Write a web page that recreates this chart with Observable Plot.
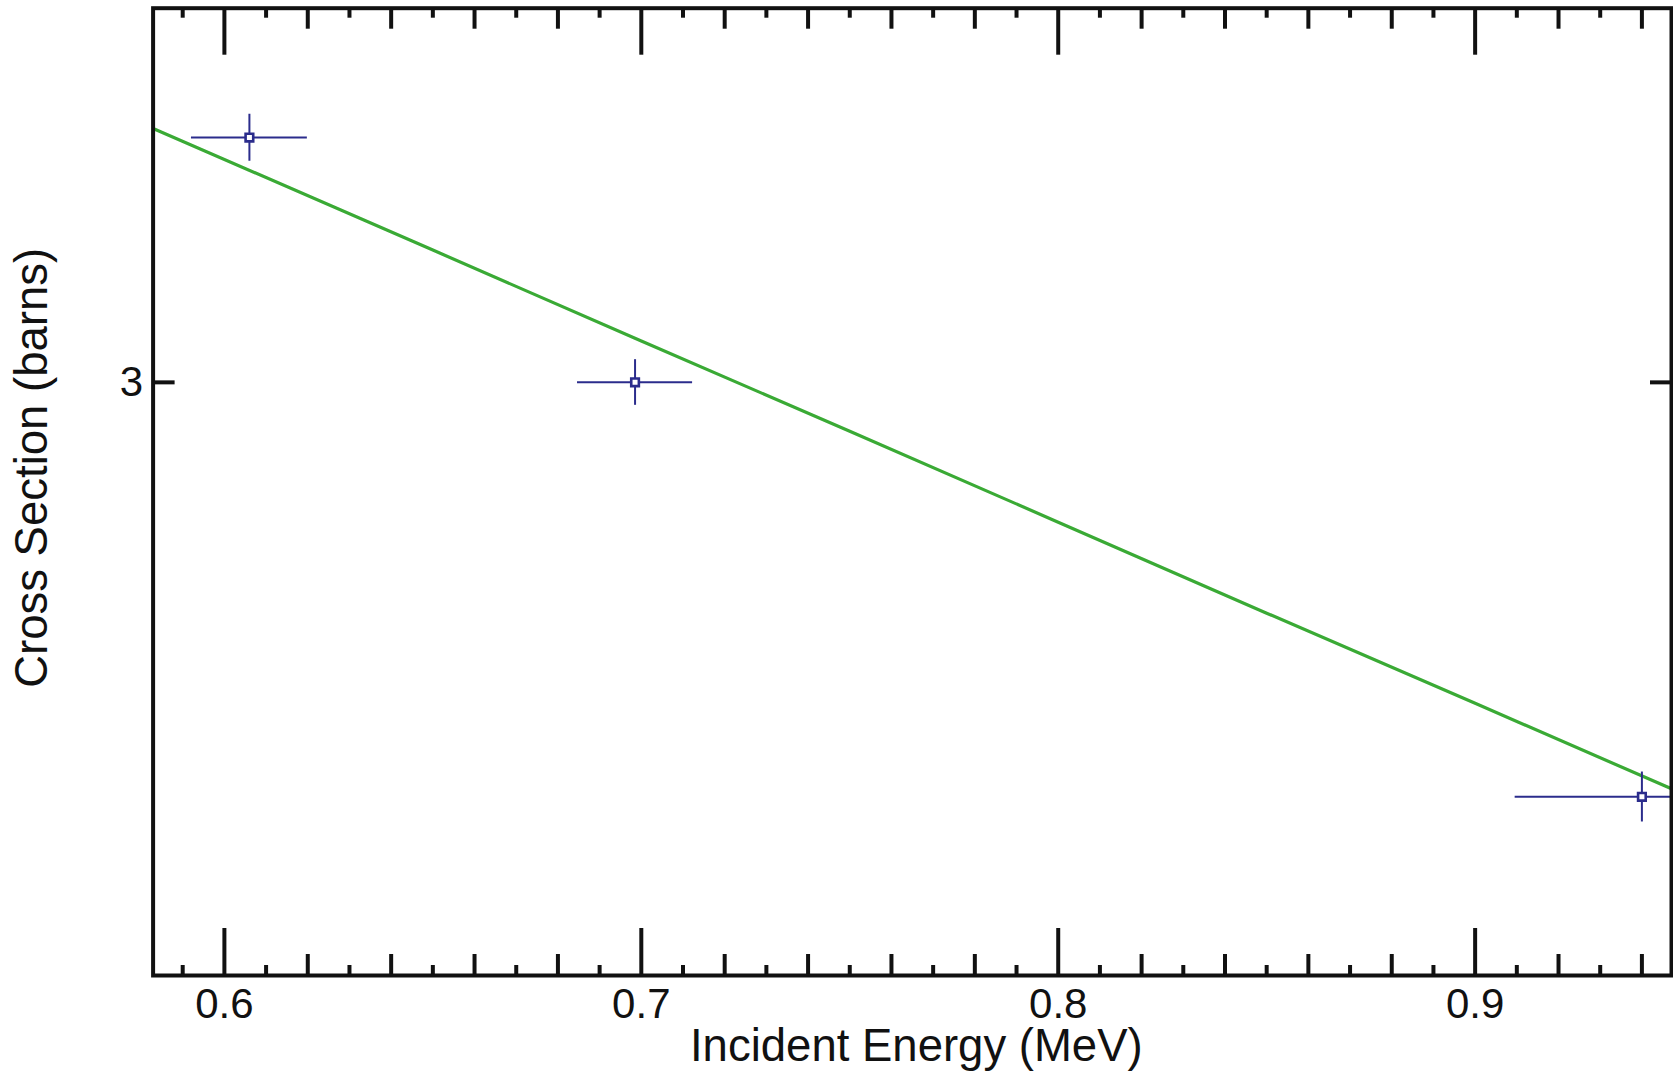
<!DOCTYPE html>
<html>
<head>
<meta charset="utf-8">
<script src="https://cdn.jsdelivr.net/npm/d3@7"></script>
<script src="https://cdn.jsdelivr.net/npm/@observablehq/plot@0.6"></script>
<style>
  html, body { margin: 0; padding: 0; background: #ffffff; }
  #chart { width: 1673px; height: 1073px; }
  svg { display: block; }
</style>
</head>
<body>
<div id="chart"></div>
<script>
// Measured data points (Incident energy in MeV, cross section in barns)
const energy = [0.606, 0.6985, 0.940];
const energyErr = [0.0139, 0.0138, 0.0304];
const crossSection = [3.40, 3.00, 2.427];
const crossSectionErr = [0.041, 0.035, 0.031];

// Evaluated curve (green)
const curveEnergy = [0.5829, 0.65, 0.70, 0.75, 0.80, 0.85, 0.90, 0.9471];
const curveCrossSection = [3.416, 3.210, 3.064, 2.926, 2.793, 2.666, 2.546, 2.437];

// Axis ticks
const xMajorTicks = [0.6, 0.7, 0.8, 0.9];
const xMediumTicks = [0.62, 0.64, 0.66, 0.68, 0.72, 0.74, 0.76, 0.78, 0.82, 0.84, 0.86, 0.88, 0.92, 0.94];
const xMinorTicks = [0.59, 0.61, 0.63, 0.65, 0.67, 0.69, 0.71, 0.73, 0.75, 0.77, 0.79, 0.81, 0.83, 0.85, 0.87, 0.89, 0.91, 0.93];
const yTicks = [3];

const xLabel = "Incident Energy (MeV)";
const yLabel = "Cross Section (barns)";

// Layout
const W = 1673, H = 1073;
const mL = 152.6, mR = 2, mT = 7.7, mB = 98;
const plotH = H - mT - mB;
const plotW = W - mL - mR;

const points = energy.map((e, i) => ({
  e, de: energyErr[i], s: crossSection[i], ds: crossSectionErr[i]
}));
const curve = curveEnergy.map((e, i) => ({e, s: curveCrossSection[i]}));

const navy = "#2b2c8c";
const green = "#3aaa35";

const bottomTicks = (data, len) => Plot.tickX(data, {x: d => d, insetTop: plotH - len, stroke: "#111", strokeWidth: 4});
const topTicks = (data, len) => Plot.tickX(data, {x: d => d, insetBottom: plotH - len, stroke: "#111", strokeWidth: 4});

const chart = Plot.plot({
  width: W,
  height: H,
  marginLeft: mL,
  marginRight: mR,
  marginTop: mT,
  marginBottom: mB,
  style: {fontFamily: "'Liberation Sans', Arial, Helvetica, sans-serif", color: "#111", background: "#fff"},
  x: {domain: [0.5829, 0.9471]},
  y: {type: "log", domain: [2.2151, 3.6326]},
  marks: [
    Plot.line(curve, {x: "e", y: "s", stroke: green, strokeWidth: 3.2, clip: true}),
    Plot.ruleY(points, {y: "s", x1: d => d.e - d.de, x2: d => d.e + d.de, stroke: navy, strokeWidth: 2, clip: true}),
    Plot.ruleX(points, {x: "e", y1: d => d.s - d.ds, y2: d => d.s + d.ds, stroke: navy, strokeWidth: 2, clip: true}),
    Plot.dot(points, {x: "e", y: "s", symbol: "square", r: 4.3, stroke: navy, strokeWidth: 2.6, fill: "#fff"}),
    bottomTicks(xMajorTicks, 47),
    bottomTicks(xMediumTicks, 21),
    bottomTicks(xMinorTicks, 10),
    topTicks(xMajorTicks, 47),
    topTicks(xMediumTicks, 21),
    topTicks(xMinorTicks, 10),
    Plot.tickY(yTicks, {y: d => d, insetRight: plotW - 22, stroke: "#111", strokeWidth: 4}),
    Plot.tickY(yTicks, {y: d => d, insetLeft: plotW - 21, stroke: "#111", strokeWidth: 4}),
    Plot.frame({stroke: "#111", strokeWidth: 4}),
    Plot.axisX({ticks: xMajorTicks, tickSize: 0, tickPadding: 13, tickFormat: ".1f", fontSize: 42, label: null, fill: "#111"}),
    Plot.axisY({ticks: yTicks, tickSize: 0, tickPadding: 10, tickFormat: d => String(d), fontSize: 42, label: null, fill: "#111"}),
    Plot.text([xLabel], {text: d => d, frameAnchor: "bottom", textAnchor: "middle", lineAnchor: "top", dy: 53, dx: 4, fontSize: 45.5, fill: "#111"}),
    Plot.text([yLabel], {text: d => d, frameAnchor: "left", textAnchor: "middle", lineAnchor: "middle", rotate: -90, dx: -120.6, dy: -24, fontSize: 45.5, fill: "#111"})
  ]
});

document.getElementById("chart").appendChild(chart);
</script>
</body>
</html>
